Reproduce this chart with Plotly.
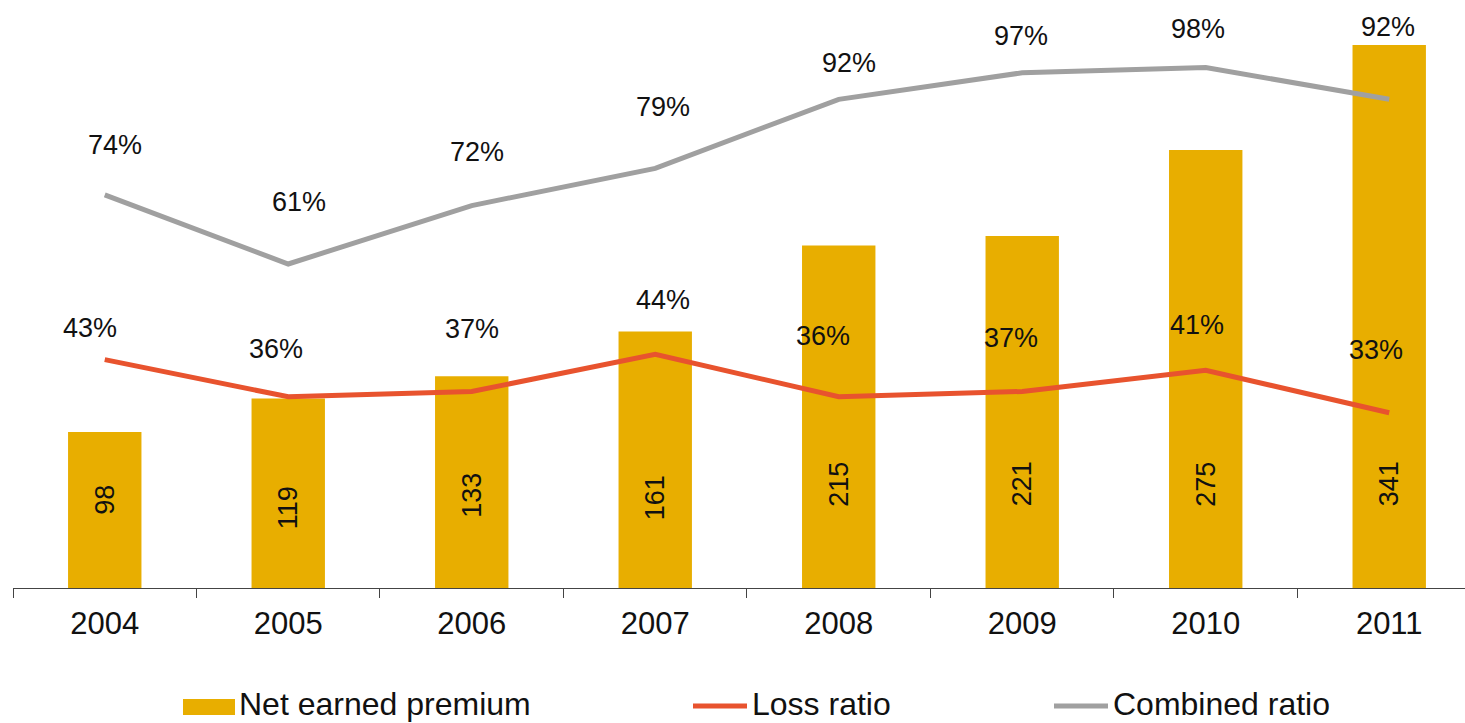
import plotly.graph_objects as go

# Source figures
years = ["2004", "2005", "2006", "2007", "2008", "2009", "2010", "2011"]
net_earned_premium = [98, 119, 133, 161, 215, 221, 275, 341]
loss_ratio = [0.43, 0.36, 0.37, 0.44, 0.36, 0.37, 0.41, 0.33]
combined_ratio = [0.74, 0.61, 0.72, 0.79, 0.92, 0.97, 0.98, 0.92]

# Label offsets in pixels (x, y) relative to each point
combined_label_dx = [10, 11, 5, 8, 10, -1, -8, -1]
combined_label_dy = [50, 62, 54, 61, 36, 37, 38, 72]
loss_label_dx = [-15, -12, 0, 8, -16, -11, -9, -13]
loss_label_dy = [32, 48, 62, 54, 61, 53, 45, 63]
bar_label_dy = [88, 80, 93, 90, 104, 104, 104, 104]

GOLD = "#E8AE00"
RED = "#E8532E"
GREY = "#A0A0A0"
TXT = "#111111"
FONT = "Liberation Sans, Arial, sans-serif"

W, H = 1465, 723
L, B = 13, 135
PW, PH = W - L, H - B

fig = go.Figure()
fig.add_trace(go.Bar(x=years, y=net_earned_premium, marker_color=GOLD,
                     marker_line_width=0, name="Net earned premium", showlegend=False))
fig.add_trace(go.Scatter(x=years, y=loss_ratio, mode="lines", yaxis="y2",
                         line=dict(color=RED, width=5), name="Loss ratio", showlegend=False))
fig.add_trace(go.Scatter(x=years, y=combined_ratio, mode="lines", yaxis="y2",
                         line=dict(color=GREY, width=5), name="Combined ratio", showlegend=False))

ann = []
for i, yr in enumerate(years):
    ann.append(dict(x=i, y=combined_ratio[i], xref="x", yref="y2",
                    text=f"{round(combined_ratio[i]*100)}%",
                    showarrow=False, xshift=combined_label_dx[i], yshift=combined_label_dy[i],
                    font=dict(size=27, color=TXT, family=FONT)))
    ann.append(dict(x=i, y=loss_ratio[i], xref="x", yref="y2",
                    text=f"{round(loss_ratio[i]*100)}%",
                    showarrow=False, xshift=loss_label_dx[i], yshift=loss_label_dy[i],
                    font=dict(size=27, color=TXT, family=FONT)))
    ann.append(dict(x=i, y=0, xref="x", yref="y", text=str(net_earned_premium[i]), textangle=-90,
                    showarrow=False, yshift=bar_label_dy[i],
                    font=dict(size=27, color=TXT, family=FONT)))

# Legend drawn below the axis (paper coords are relative to the plot area)
def px(x):
    return (x - L) / PW
def py(y):
    return (PH - y) / PH

shapes = [
    dict(type="rect", xref="paper", yref="paper", x0=px(183), x1=px(235), y0=py(715), y1=py(699),
         fillcolor=GOLD, line_width=0),
    dict(type="line", xref="paper", yref="paper", x0=px(693), x1=px(747), y0=py(706), y1=py(706),
         line=dict(color=RED, width=5)),
    dict(type="line", xref="paper", yref="paper", x0=px(1054), x1=px(1108), y0=py(706), y1=py(706),
         line=dict(color=GREY, width=5)),
]
for text, x in [("Net earned premium", 237), ("Loss ratio", 750), ("Combined ratio", 1111)]:
    ann.append(dict(x=px(x), y=py(704), xref="paper", yref="paper", text=text, showarrow=False,
                    xanchor="left", yanchor="middle", font=dict(size=32, color=TXT, family=FONT)))

fig.update_layout(
    width=W, height=H,
    margin=dict(l=L, r=0, t=0, b=B),
    paper_bgcolor="white", plot_bgcolor="white",
    bargap=0.6,
    showlegend=False,
    xaxis=dict(type="category", range=[-0.5, 7.413], tickson="boundaries", ticks="outside",
               ticklen=9, tickcolor="#444", showline=True, linecolor="#444", linewidth=1.2,
               showgrid=False, tickfont=dict(size=31, color=TXT, family=FONT), ticklabelstandoff=8),
    yaxis=dict(range=[0, 369.2], visible=False, showgrid=False),
    yaxis2=dict(range=[0, 1.107], overlaying="y", visible=False, showgrid=False),
    annotations=ann,
    shapes=shapes,
)

fig.write_html("out.html")
